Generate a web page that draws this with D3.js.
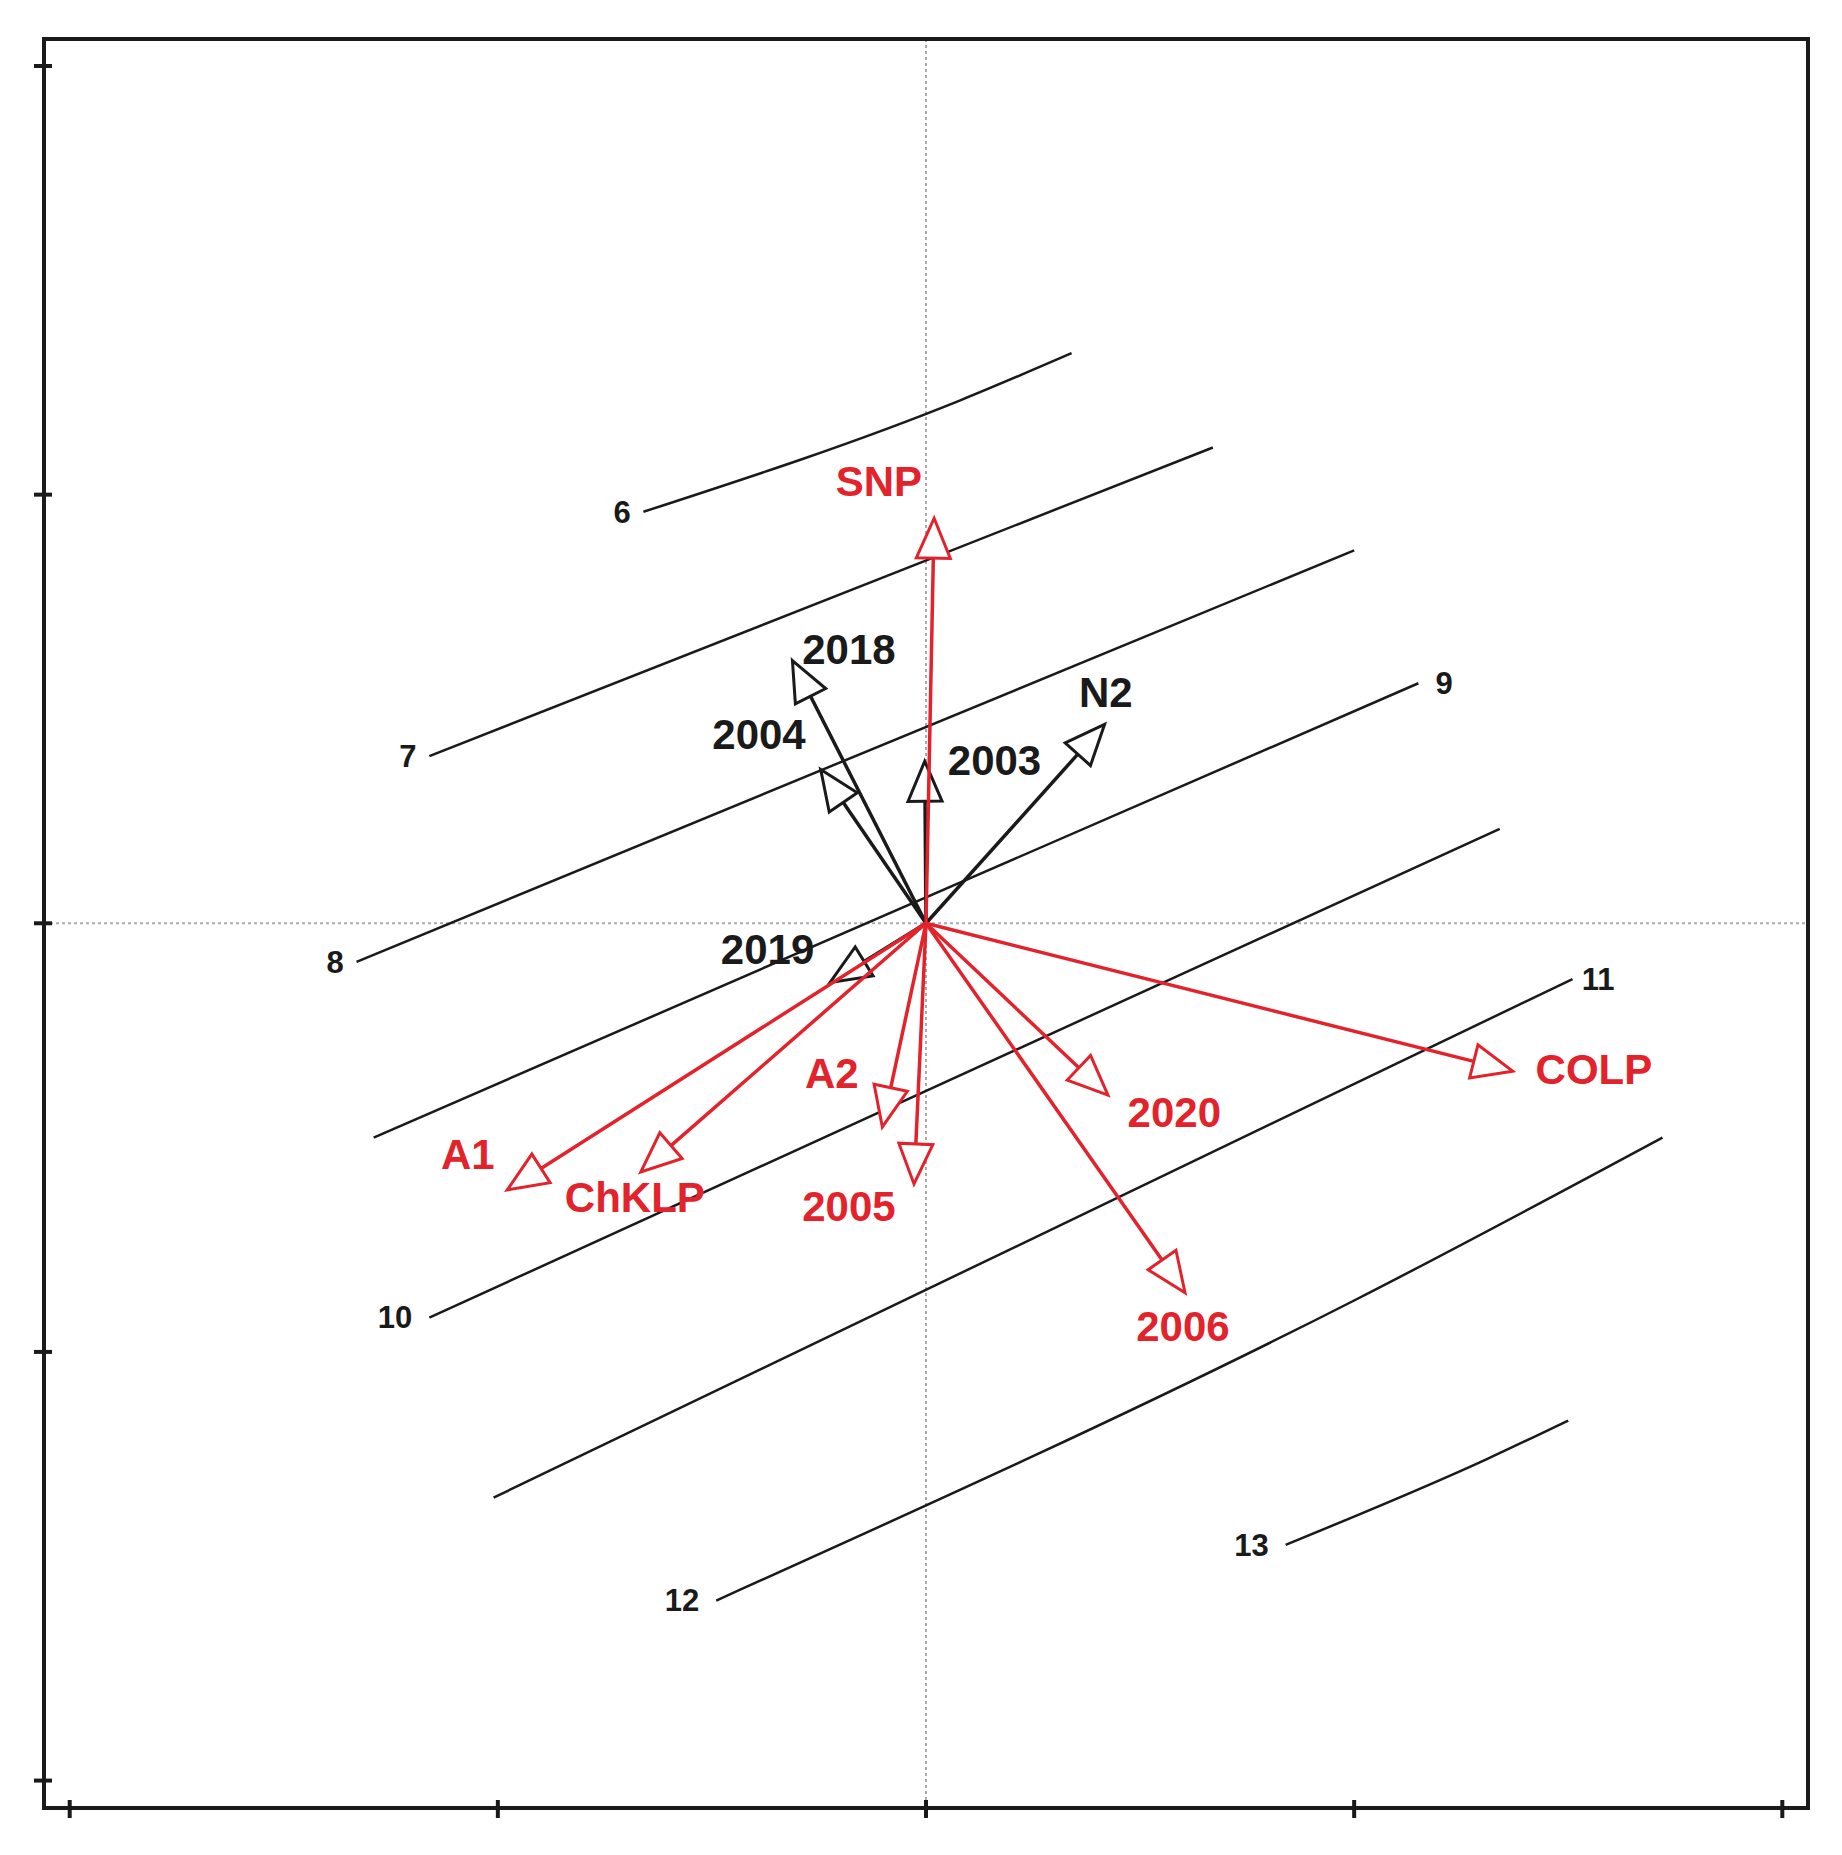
<!DOCTYPE html>
<html><head><meta charset="utf-8">
<script src="https://cdn.jsdelivr.net/npm/d3@7"></script>
<style>body{margin:0;background:#fff}</style></head>
<body><svg id="c" width="1842" height="1855"></svg>
<script>
const arrowNames = ["SNP","2018","2004","2003","N2","2019","A1","ChKLP","A2","2005","2020","2006","COLP"];
const arrowX = [0.019,-0.312,-0.246,-0.003,0.417,-0.224,-0.978,-0.666,-0.102,-0.028,0.425,0.605,1.370];
const arrowY = [0.945,0.613,0.359,0.378,0.464,-0.138,-0.622,-0.580,-0.475,-0.608,-0.401,-0.862,-0.345];
const arrowRed = [1,0,0,0,0,0,1,1,1,1,1,1,1];
const labelX = [-0.11,-0.18,-0.39,0.16,0.42,-0.37,-1.07,-0.68,-0.22,-0.18,0.58,0.60,1.56];
const labelY = [1.03,0.64,0.44,0.38,0.54,-0.06,-0.54,-0.64,-0.35,-0.66,-0.44,-0.94,-0.34];

const contourLevels = ["6","7","8","9","10","11","12","13"];
const contourX = [[-0.66,0.08,0.34],[-1.16,0.67],[-1.33,1.0],[-1.29,1.15],[-1.16,1.34],[-1.01,1.51],[-0.49,1.0,1.72],[0.84,1.31,1.5]];
const contourY = [[0.96,1.22,1.33],[0.39,1.11],[-0.09,0.87],[-0.5,0.56],[-0.92,0.22],[-1.34,-0.13],[-1.58,-0.88,-0.5],[-1.45,-1.25,-1.16]];
const contourLabelX = [-0.71,-1.21,-1.38,1.21,-1.24,1.57,-0.57,0.76];
const contourLabelY = [0.96,0.39,-0.09,0.56,-0.92,-0.13,-1.58,-1.45];
const ticks = [-2,-1,0,1,2];

const svg = d3.select("#c");
const L=44,T=39,R=1808,B=1808;
const x = d3.scaleLinear().domain([-2.06,2.06]).range([L,R]);
const y = d3.scaleLinear().domain([-2.064,2.063]).range([B,T]);
const red="#e3232b", blk="#1a1a1a";

svg.append("line").attr("x1",x(0)).attr("x2",x(0)).attr("y1",T).attr("y2",B).attr("stroke","#aaa").attr("stroke-dasharray","3,3").attr("stroke-width",2);
svg.append("line").attr("y1",y(0)).attr("y2",y(0)).attr("x1",L).attr("x2",R).attr("stroke","#aaa").attr("stroke-dasharray","3,3").attr("stroke-width",2);

const lineGen = d3.line().curve(d3.curveMonotoneX);
contourLevels.forEach((lv,i)=>{
  const pts = contourX[i].map((v,j)=>[x(v),y(contourY[i][j])]);
  svg.append("path").attr("d",lineGen(pts)).attr("fill","none").attr("stroke",blk).attr("stroke-width",2.5);
  svg.append("text").attr("x",x(contourLabelX[i])).attr("y",y(contourLabelY[i])).attr("text-anchor","middle").attr("dy","0.35em")
    .attr("font-family","Liberation Sans, Arial").attr("font-weight","bold").attr("font-size",31).attr("fill",blk).text(lv);
});

const order = d3.range(arrowNames.length).sort((a,b)=>arrowRed[a]-arrowRed[b]);
order.forEach(i=>{
  const c = arrowRed[i]?red:blk;
  const x0=x(0),y0=y(0),x1=x(arrowX[i]),y1=y(arrowY[i]);
  const dx=x1-x0,dy=y1-y0,len=Math.hypot(dx,dy),ux=dx/len,uy=dy/len;
  const hl=40,hw=17;
  const bx=x1-ux*hl,by=y1-uy*hl;
  svg.append("line").attr("x1",x0).attr("y1",y0).attr("x2",bx).attr("y2",by).attr("stroke",c).attr("stroke-width",3.5);
  svg.append("polygon").attr("points",[[x1,y1],[bx-uy*hw,by+ux*hw],[bx+uy*hw,by-ux*hw]].map(p=>p.join(",")).join(" "))
    .attr("fill","white").attr("stroke",c).attr("stroke-width",3);
  svg.append("text").attr("x",x(labelX[i])).attr("y",y(labelY[i])).attr("text-anchor","middle").attr("dy","0.35em")
    .attr("font-family","Liberation Sans, Arial").attr("font-weight","bold").attr("font-size",42).attr("fill",c).text(arrowNames[i]);
});

svg.append("rect").attr("x",L).attr("y",T).attr("width",R-L).attr("height",B-T).attr("fill","none").attr("stroke",blk).attr("stroke-width",4);
ticks.forEach(t=>{
  svg.append("line").attr("x1",x(t)).attr("x2",x(t)).attr("y1",B-8).attr("y2",B+10).attr("stroke",blk).attr("stroke-width",4);
  svg.append("line").attr("y1",y(t)).attr("y2",y(t)).attr("x1",L-10).attr("x2",L+8).attr("stroke",blk).attr("stroke-width",4);
});
</script></body></html>
